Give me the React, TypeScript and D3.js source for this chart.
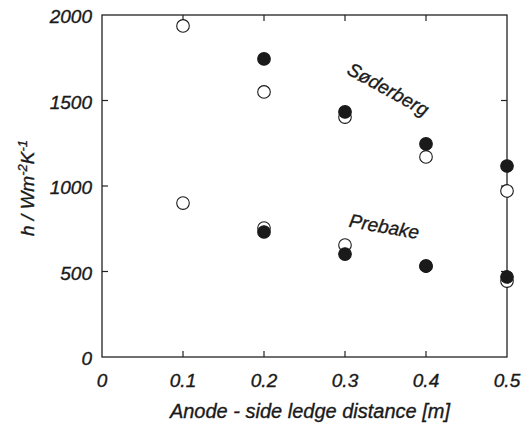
import React from "react";
import * as d3 from "d3";

const xTicks = [0, 0.1, 0.2, 0.3, 0.4, 0.5];
const xTickLabels = ["0", "0.1", "0.2", "0.3", "0.4", "0.5"];
const yTicks = [0, 500, 1000, 1500, 2000];

const distances = [0.1, 0.2, 0.3, 0.4, 0.5];
const soderbergOpen = [1936, 1550, 1403, 1170, 971];
const soderbergFilled = [null, 1743, 1433, 1246, 1117];
const prebakeOpen = [900, 754, 655, 532, 444];
const prebakeFilled = [null, 731, 602, 532, 468];

const W = 529;
const H = 423;
const M = { left: 102, right: 22, top: 15, bottom: 66 };

export default function App() {
  const x = d3.scaleLinear().domain([0, 0.5]).range([M.left, W - M.right]);
  const y = d3.scaleLinear().domain([0, 2000]).range([H - M.bottom, M.top]);
  const font = "'Liberation Sans', Arial, sans-serif";
  const r = 6.3;
  const ink = "#1a1a1a";
  const textProps = {
    fontFamily: font,
    fontStyle: "italic",
    fill: ink,
    stroke: ink,
    strokeWidth: 0.35,
  } as const;

  const pts = (vals: (number | null)[], filled: boolean, key: string) =>
    vals.map((v, i) =>
      v == null ? null : (
        <circle
          key={key + i}
          cx={x(distances[i])}
          cy={y(v)}
          r={r}
          fill={filled ? ink : "#fff"}
          stroke={ink}
          strokeWidth={1.1}
        />
      )
    );

  const x0 = x(0), x1 = x(0.5), y0 = y(0), y1 = y(2000);
  const tl = 6;

  return (
    <svg width={W} height={H} style={{ position: "absolute", left: 0, top: 0, background: "#fff" }}>
      <rect x={x0} y={y1} width={x1 - x0} height={y0 - y1} fill="none" stroke="#222" strokeWidth={1.3} />
      {xTicks.slice(1, -1).map((t) => (
        <g key={"xt" + t}>
          <line x1={x(t)} x2={x(t)} y1={y0} y2={y0 - tl} stroke="#222" strokeWidth={1.2} />
          <line x1={x(t)} x2={x(t)} y1={y1} y2={y1 + tl} stroke="#222" strokeWidth={1.2} />
        </g>
      ))}
      {yTicks.slice(1, -1).map((t) => (
        <g key={"yt" + t}>
          <line x1={x0} x2={x0 + tl} y1={y(t)} y2={y(t)} stroke="#222" strokeWidth={1.2} />
          <line x1={x1} x2={x1 - tl} y1={y(t)} y2={y(t)} stroke="#222" strokeWidth={1.2} />
        </g>
      ))}
      {xTicks.map((t, i) => (
        <text key={"xl" + t} x={x(t)} y={y0 + 30} textAnchor="middle" fontSize={19} {...textProps}>
          {xTickLabels[i]}
        </text>
      ))}
      {yTicks.map((t) => (
        <text key={"yl" + t} x={x0 - 10} y={y(t) + 8} textAnchor="end" fontSize={19} {...textProps}>
          {t}
        </text>
      ))}
      <text x={310} y={418} textAnchor="middle" fontSize={20} {...textProps}>
        Anode - side ledge distance [m]
      </text>
      <text transform={`translate(34, 188) rotate(-90)`} textAnchor="middle" fontSize={19} {...textProps}>
        h / Wm<tspan dy={-7} fontSize={13}>-2</tspan><tspan dy={7}>K</tspan><tspan dy={-7} fontSize={13}>-1</tspan>
      </text>
      {pts(soderbergOpen, false, "so")}
      {pts(soderbergFilled, true, "sf")}
      {pts(prebakeOpen, false, "po")}
      {pts(prebakeFilled, true, "pf")}
      <text transform="translate(385, 95) rotate(29)" textAnchor="middle" fontSize={19} {...textProps}>
        Søderberg
      </text>
      <text transform="translate(383, 233) rotate(10)" textAnchor="middle" fontSize={19} {...textProps}>
        Prebake
      </text>
    </svg>
  );
}
